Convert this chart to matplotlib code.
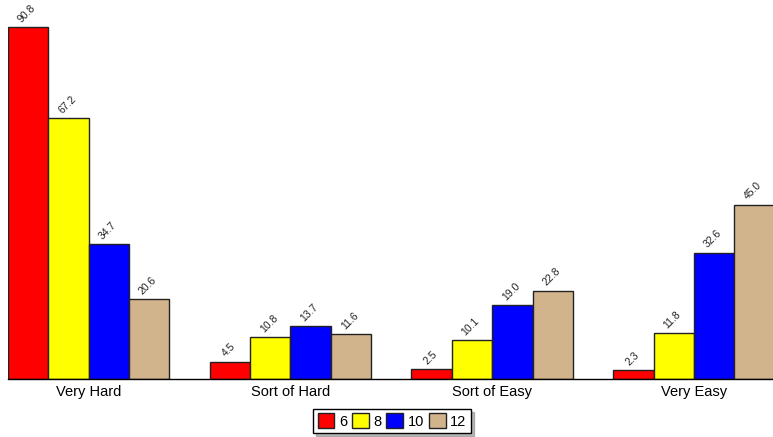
import matplotlib
matplotlib.use("Agg")
import matplotlib.pyplot as plt
import numpy as np

plt.rcParams['font.family'] = ['Liberation Sans', 'DejaVu Sans']

categories = ["Very Hard", "Sort of Hard", "Sort of Easy", "Very Easy"]
series_names = ["6", "8", "10", "12"]
values = {
    "6": [90.8, 4.5, 2.5, 2.3],
    "8": [67.2, 10.8, 10.1, 11.8],
    "10": [34.7, 13.7, 19.0, 32.6],
    "12": [20.6, 11.6, 22.8, 45.0],
}
colors = ["#ff0000", "#ffff00", "#0000ff", "#d2b48c"]

fig = plt.figure(figsize=(7.73, 4.37), dpi=100)
ax = fig.add_axes([8/773, (437-379)/437, 1 - 8/773, 379/437])

n = len(series_names)
group_step = n + 1
for j, name in enumerate(series_names):
    xs = np.arange(len(categories)) * group_step + j + 0.5
    vals = values[name]
    ax.bar(xs, vals, width=1.0, color=colors[j], edgecolor="#222222",
           linewidth=1.0, label=name, clip_on=True)
    for x, v in zip(xs, vals):
        ax.annotate(f"{v:.1f}", (x, v), xytext=(-1, 2), textcoords="offset points",
                    rotation=45, ha="center", va="bottom", fontsize=7.5,
                    color="#222222", annotation_clip=False)

centers = np.arange(len(categories)) * group_step + n / 2
ax.set_xticks(centers)
ax.set_xticklabels(categories, fontsize=10.5)
ax.tick_params(axis="x", length=0, pad=4)
ax.set_yticks([])
ax.set_xlim(0, 18.96)
ax.set_ylim(0, 97.76)
for s in ["top", "right", "left"]:
    ax.spines[s].set_visible(False)
ax.spines["bottom"].set_linewidth(1.0)
ax.patch.set_alpha(0)

leg = fig.legend(loc="center", bbox_to_anchor=(392/773, 1 - 421/437), ncol=4,
                 fontsize=10.5, frameon=True, fancybox=False, shadow={'ox': 2, 'oy': -2, 'color': '#777777'},
                 edgecolor="black", handlelength=1.15, handleheight=1.2,
                 handletextpad=0.3, columnspacing=0.35, borderpad=0.3,
                 borderaxespad=0)
leg.get_frame().set_linewidth(1.0)

fig.savefig("out.png", dpi=100)
